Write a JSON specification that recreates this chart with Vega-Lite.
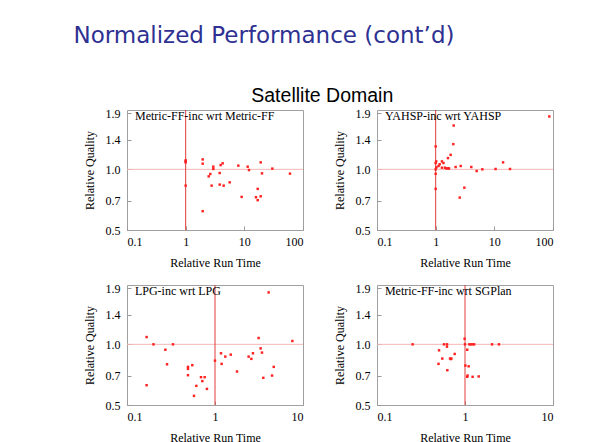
{
  "$schema": "https://vega.github.io/schema/vega-lite/v6.json",
  "background": "white",
  "padding": {"left": 73, "top": 25, "right": 5, "bottom": 5},
  "title": {"text": "Normalized Performance (cont’d)", "anchor": "start", "font": "DejaVu Sans", "fontSize": 23, "fontWeight": "normal", "color": "#2e3192", "offset": 38, "dx": -9},
  "config": {
    "view": {"stroke": "#a0a0a0", "strokeWidth": 1},
    "axis": {"grid": false, "domain": false, "labelFont": "Liberation Serif", "labelFontSize": 12, "labelColor": "#000", "titleFont": "Liberation Serif", "titleFontSize": 12, "titleFontWeight": "normal", "titleColor": "#000", "tickColor": "#999", "tickSize": -4, "labelPadding": 11},
    "axisX": {"titlePadding": 10, "labelPadding": 10},
    "axisY": {"titlePadding": 9}
  },
  "datasets": {
    "p1": [
      {"x": 1, "y": 1.108}, {"x": 1, "y": 1.095}, {"x": 1, "y": 1.083}, {"x": 1, "y": 0.83},
      {"x": 1.95, "y": 1.12}, {"x": 1.95, "y": 1.067}, {"x": 1.95, "y": 0.62},
      {"x": 2.47, "y": 0.923}, {"x": 2.63, "y": 0.948}, {"x": 2.77, "y": 0.83},
      {"x": 2.96, "y": 1.031}, {"x": 2.96, "y": 1.004}, {"x": 3.8, "y": 0.959}, {"x": 3.8, "y": 0.84},
      {"x": 3.95, "y": 1.05}, {"x": 4.27, "y": 1.071}, {"x": 4.44, "y": 0.83}, {"x": 5.63, "y": 0.862},
      {"x": 7.9, "y": 1.043}, {"x": 9.0, "y": 0.73}, {"x": 11.4, "y": 1.031}, {"x": 12.0, "y": 0.992},
      {"x": 15.8, "y": 0.727}, {"x": 16.9, "y": 0.8}, {"x": 16.9, "y": 0.703}, {"x": 19.0, "y": 1.083},
      {"x": 19.0, "y": 0.735}, {"x": 20, "y": 0.955}, {"x": 30, "y": 1.008}, {"x": 60, "y": 0.952}
    ],
    "p2": [
      {"x": 1, "y": 1.299}, {"x": 1, "y": 1.075}, {"x": 1, "y": 1.0}, {"x": 1, "y": 0.95}, {"x": 1, "y": 0.8},
      {"x": 1.02, "y": 1.095}, {"x": 1.03, "y": 1.023}, {"x": 1.12, "y": 1.039}, {"x": 1.17, "y": 1.06},
      {"x": 1.28, "y": 1.095}, {"x": 1.28, "y": 1.019}, {"x": 1.36, "y": 1.075}, {"x": 1.44, "y": 1.019},
      {"x": 1.52, "y": 1.011}, {"x": 1.62, "y": 1.011}, {"x": 1.69, "y": 1.011}, {"x": 1.62, "y": 1.137},
      {"x": 1.8, "y": 1.18}, {"x": 2.0, "y": 1.334}, {"x": 2.03, "y": 1.65}, {"x": 2.19, "y": 1.027},
      {"x": 2.57, "y": 0.724}, {"x": 2.67, "y": 1.039}, {"x": 3.08, "y": 0.811}, {"x": 4.05, "y": 1.027},
      {"x": 5.0, "y": 0.981}, {"x": 6.24, "y": 1.0}, {"x": 10.5, "y": 1.004}, {"x": 14.1, "y": 1.083},
      {"x": 18.5, "y": 1.004}, {"x": 86.5, "y": 1.83}
    ],
    "p3": [
      {"x": 0.167, "y": 1.087}, {"x": 0.167, "y": 0.627}, {"x": 0.2, "y": 1.0}, {"x": 0.273, "y": 0.94},
      {"x": 0.285, "y": 0.796}, {"x": 0.333, "y": 1.0}, {"x": 0.493, "y": 0.773}, {"x": 0.493, "y": 0.755},
      {"x": 0.493, "y": 0.703}, {"x": 0.552, "y": 0.788}, {"x": 0.577, "y": 0.555}, {"x": 0.614, "y": 0.622},
      {"x": 0.693, "y": 0.687}, {"x": 0.718, "y": 0.657}, {"x": 0.763, "y": 0.687}, {"x": 0.81, "y": 0.601},
      {"x": 1.0, "y": 0.83}, {"x": 1.17, "y": 0.903}, {"x": 1.19, "y": 0.8}, {"x": 1.31, "y": 0.869},
      {"x": 1.51, "y": 0.889}, {"x": 1.78, "y": 0.733}, {"x": 2.41, "y": 0.869}, {"x": 2.59, "y": 0.847},
      {"x": 2.7, "y": 0.903}, {"x": 3.13, "y": 1.075}, {"x": 3.3, "y": 0.955}, {"x": 3.42, "y": 0.91},
      {"x": 3.54, "y": 0.682}, {"x": 4.07, "y": 1.81}, {"x": 4.45, "y": 0.7}, {"x": 4.65, "y": 0.773},
      {"x": 7.57, "y": 1.039}
    ],
    "p4": [
      {"x": 0.254, "y": 1.0}, {"x": 0.507, "y": 0.934}, {"x": 0.5, "y": 0.8}, {"x": 0.552, "y": 0.85},
      {"x": 0.577, "y": 1.0}, {"x": 0.624, "y": 1.0}, {"x": 0.624, "y": 0.974}, {"x": 0.63, "y": 0.744},
      {"x": 0.676, "y": 0.85}, {"x": 0.69, "y": 0.845}, {"x": 0.7, "y": 0.85}, {"x": 0.763, "y": 0.896},
      {"x": 0.99, "y": 1.066}, {"x": 1.0, "y": 1.0}, {"x": 1.01, "y": 0.785}, {"x": 1.06, "y": 0.94},
      {"x": 1.06, "y": 0.69}, {"x": 1.07, "y": 0.7}, {"x": 1.1, "y": 0.778}, {"x": 1.12, "y": 1.0},
      {"x": 1.16, "y": 1.0}, {"x": 1.22, "y": 1.0}, {"x": 1.27, "y": 1.0}, {"x": 1.22, "y": 0.69},
      {"x": 1.43, "y": 0.693}, {"x": 2.03, "y": 1.0}, {"x": 2.43, "y": 1.0}
    ]
  },
  "vconcat": [
    {
      "title": {"text": "Satellite Domain", "anchor": "middle", "font": "Liberation Sans", "fontSize": 19.5, "fontWeight": "normal", "color": "#000", "offset": 0, "dx": 4},
      "spacing": 12,
      "vconcat": [
        {
          "spacing": 74,
          "bounds": "flush",
          "hconcat": [
            {
              "width": 176, "height": 120,
              "layer": [
                {"data": {"values": [{}]}, "mark": {"type": "rule", "color": "#f5b5b5", "strokeWidth": 1}, "encoding": {"y": {"datum": 1, "type": "quantitative"}}},
                {"data": {"values": [{}]}, "mark": {"type": "rule", "color": "#e23c3c", "strokeWidth": 1}, "encoding": {"x": {"datum": 1, "type": "quantitative"}}},
                {"data": {"name": "p1"}, "mark": {"type": "point", "filled": true, "shape": "square", "color": "#ff2020", "size": 6, "opacity": 1},
                  "encoding": {
                    "x": {"field": "x", "type": "quantitative", "scale": {"type": "log", "domain": [0.1, 100], "nice": false}, "axis": {"values": [0.1, 1, 10, 100], "format": "~g", "title": "Relative Run Time"}},
                    "y": {"field": "y", "type": "quantitative", "scale": {"type": "log", "domain": [0.5, 1.97], "nice": false}, "axis": {"values": [0.5, 0.7, 1, 1.4, 1.9], "format": ".1f", "title": "Relative Quality"}}
                  }},
                {"data": {"values": [{"label": "Metric-FF-inc wrt Metric-FF"}]}, "mark": {"type": "text", "align": "left", "baseline": "middle", "font": "Liberation Serif", "fontSize": 12, "color": "#000"},
                  "encoding": {"x": {"datum": 0.137, "type": "quantitative"}, "y": {"datum": 1.84, "type": "quantitative"}, "text": {"field": "label"}}}
              ]
            },
            {
              "width": 176, "height": 120,
              "layer": [
                {"data": {"values": [{}]}, "mark": {"type": "rule", "color": "#f5b5b5", "strokeWidth": 1}, "encoding": {"y": {"datum": 1, "type": "quantitative"}}},
                {"data": {"values": [{}]}, "mark": {"type": "rule", "color": "#e23c3c", "strokeWidth": 1}, "encoding": {"x": {"datum": 1, "type": "quantitative"}}},
                {"data": {"name": "p2"}, "mark": {"type": "point", "filled": true, "shape": "square", "color": "#ff2020", "size": 6, "opacity": 1},
                  "encoding": {
                    "x": {"field": "x", "type": "quantitative", "scale": {"type": "log", "domain": [0.1, 100], "nice": false}, "axis": {"values": [0.1, 1, 10, 100], "format": "~g", "title": "Relative Run Time"}},
                    "y": {"field": "y", "type": "quantitative", "scale": {"type": "log", "domain": [0.5, 1.97], "nice": false}, "axis": {"values": [0.5, 0.7, 1, 1.4, 1.9], "format": ".1f", "title": "Relative Quality"}}
                  }},
                {"data": {"values": [{"label": "YAHSP-inc wrt YAHSP"}]}, "mark": {"type": "text", "align": "left", "baseline": "middle", "font": "Liberation Serif", "fontSize": 12, "color": "#000"},
                  "encoding": {"x": {"datum": 0.137, "type": "quantitative"}, "y": {"datum": 1.84, "type": "quantitative"}, "text": {"field": "label"}}}
              ]
            }
          ]
        },
        {
          "spacing": 74,
          "bounds": "flush",
          "hconcat": [
            {
              "width": 176, "height": 120,
              "layer": [
                {"data": {"values": [{}]}, "mark": {"type": "rule", "color": "#f5b5b5", "strokeWidth": 1}, "encoding": {"y": {"datum": 1, "type": "quantitative"}}},
                {"data": {"values": [{}]}, "mark": {"type": "rule", "color": "#e23c3c", "strokeWidth": 1}, "encoding": {"x": {"datum": 1, "type": "quantitative"}}},
                {"data": {"name": "p3"}, "mark": {"type": "point", "filled": true, "shape": "square", "color": "#ff2020", "size": 6, "opacity": 1},
                  "encoding": {
                    "x": {"field": "x", "type": "quantitative", "scale": {"type": "log", "domain": [0.1, 10], "nice": false}, "axis": {"values": [0.1, 1, 10], "format": "~g", "title": "Relative Run Time"}},
                    "y": {"field": "y", "type": "quantitative", "scale": {"type": "log", "domain": [0.5, 1.97], "nice": false}, "axis": {"values": [0.5, 0.7, 1, 1.4, 1.9], "format": ".1f", "title": "Relative Quality"}}
                  }},
                {"data": {"values": [{"label": "LPG-inc wrt LPG"}]}, "mark": {"type": "text", "align": "left", "baseline": "middle", "font": "Liberation Serif", "fontSize": 12, "color": "#000"},
                  "encoding": {"x": {"datum": 0.123, "type": "quantitative"}, "y": {"datum": 1.84, "type": "quantitative"}, "text": {"field": "label"}}}
              ]
            },
            {
              "width": 176, "height": 120,
              "layer": [
                {"data": {"values": [{}]}, "mark": {"type": "rule", "color": "#f5b5b5", "strokeWidth": 1}, "encoding": {"y": {"datum": 1, "type": "quantitative"}}},
                {"data": {"values": [{}]}, "mark": {"type": "rule", "color": "#e23c3c", "strokeWidth": 1}, "encoding": {"x": {"datum": 1, "type": "quantitative"}}},
                {"data": {"name": "p4"}, "mark": {"type": "point", "filled": true, "shape": "square", "color": "#ff2020", "size": 6, "opacity": 1},
                  "encoding": {
                    "x": {"field": "x", "type": "quantitative", "scale": {"type": "log", "domain": [0.1, 10], "nice": false}, "axis": {"values": [0.1, 1, 10], "format": "~g", "title": "Relative Run Time"}},
                    "y": {"field": "y", "type": "quantitative", "scale": {"type": "log", "domain": [0.5, 1.97], "nice": false}, "axis": {"values": [0.5, 0.7, 1, 1.4, 1.9], "format": ".1f", "title": "Relative Quality"}}
                  }},
                {"data": {"values": [{"label": "Metric-FF-inc wrt SGPlan"}]}, "mark": {"type": "text", "align": "left", "baseline": "middle", "font": "Liberation Serif", "fontSize": 12, "color": "#000"},
                  "encoding": {"x": {"datum": 0.123, "type": "quantitative"}, "y": {"datum": 1.84, "type": "quantitative"}, "text": {"field": "label"}}}
              ]
            }
          ]
        }
      ]
    }
  ]
}
